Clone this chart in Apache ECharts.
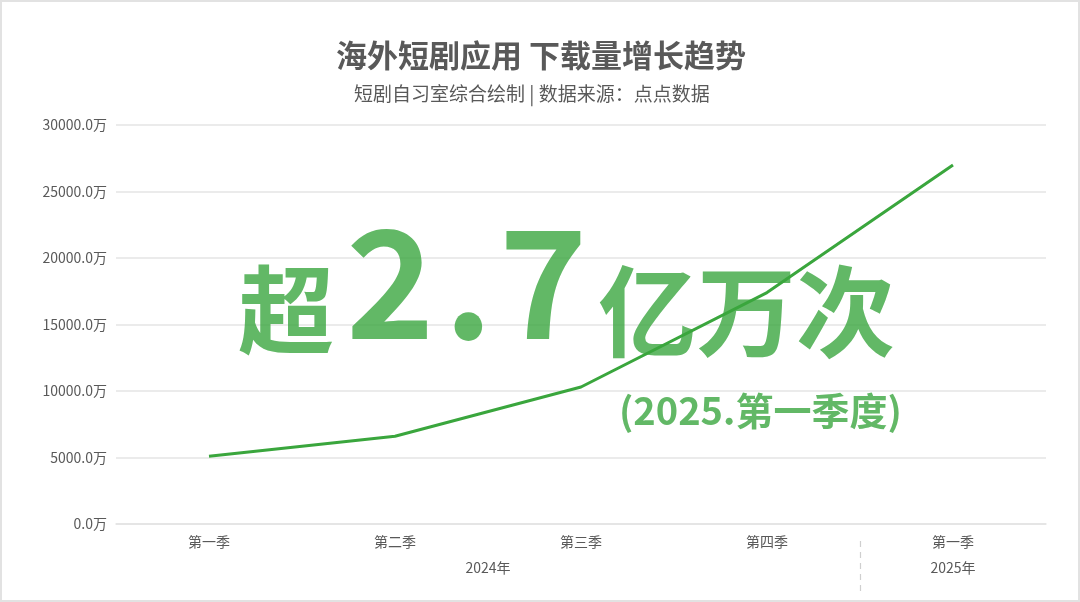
<!DOCTYPE html>
<html>
<head>
<meta charset="utf-8">
<script src="https://cdn.jsdelivr.net/npm/echarts@6/dist/echarts.min.js"></script>
<style>
  html, body { margin: 0; padding: 0; background: #fff; }
  #main { width: 1080px; height: 602px; box-sizing: border-box; border: 2px solid #e2e2e2; }
</style>
</head>
<body>
<div id="main"></div>
<script>
// 季度、所属年份、下载量（万）
var quarters = ['第一季', '第二季', '第三季', '第四季', '第一季'];
var quarterYear = ['2024年', '2024年', '2024年', '2024年', '2025年'];
var downloads = [5100, 6600, 10300, 17400, 27000];
var yTicks = [0, 5000, 10000, 15000, 20000, 25000, 30000];

var titleText = '海外短剧应用 下载量增长趋势';
var subText = '短剧自习室综合绘制 | 数据来源：点点数据';

var font = '"Noto Sans CJK SC", "Noto Sans", sans-serif';
var grey = '#595959';
var bigGreen = 'rgba(59,166,64,0.8)';

// 年份分组：算出每个年份的起止位置，用于第二层x轴标签和分隔线
var yearGroups = [];
quarterYear.forEach(function (y, i) {
  var last = yearGroups[yearGroups.length - 1];
  if (last && last.name === y) {
    last.end = i + 1;
  } else {
    yearGroups.push({ name: y, start: i, end: i + 1 });
  }
});
var yearLabelPos = yearGroups.map(function (g) { return (g.start + g.end) / 2; });
var yearSplitPos = yearGroups.slice(1).map(function (g) { return g.start; });

var chart = echarts.init(document.getElementById('main'));
var option = {
  backgroundColor: '#fff',
  title: [{
    text: titleText,
    left: 329,
    top: 33,
    textStyle: { fontFamily: font, fontSize: 31, fontWeight: 'bold', color: grey }
  }, {
    text: subText,
    left: 347,
    top: 77,
    textStyle: { fontFamily: font, fontSize: 19, fontWeight: 'normal', color: grey }
  }],
  grid: { left: 114, right: 32, top: 123, bottom: 76 },
  xAxis: [{
    type: 'category',
    data: quarters,
    boundaryGap: true,
    axisLine: { show: true, lineStyle: { color: '#e4e4e4', width: 1.5 } },
    axisTick: { show: false },
    axisLabel: { color: grey, fontFamily: font, fontSize: 14, margin: 11 }
  }, {
    type: 'value',
    min: 0,
    max: quarters.length,
    position: 'bottom',
    offset: 17,
    axisLine: { show: false },
    splitLine: { show: false },
    axisTick: {
      show: true,
      customValues: yearSplitPos,
      length: 50,
      lineStyle: { color: '#cfcfcf', type: [6, 5], width: 1.2 }
    },
    axisLabel: {
      customValues: yearLabelPos,
      color: grey,
      fontFamily: font,
      fontSize: 14,
      margin: 20,
      formatter: function (v) {
        var idx = yearLabelPos.indexOf(v);
        return idx >= 0 ? yearGroups[idx].name : '';
      }
    }
  }],
  yAxis: {
    type: 'value',
    min: yTicks[0],
    max: yTicks[yTicks.length - 1],
    interval: yTicks[1] - yTicks[0],
    axisLine: { show: false },
    axisTick: { show: false },
    splitLine: { lineStyle: { color: '#e4e4e4', width: 1.5 } },
    axisLabel: {
      color: grey,
      fontFamily: font,
      fontSize: 14,
      margin: 9,
      formatter: function (v) { return v.toFixed(1) + '万'; }
    }
  },
  series: [{
    type: 'line',
    data: downloads,
    xAxisIndex: 0,
    symbol: 'none',
    z: 5,
    lineStyle: { color: '#3aa63d', width: 3 }
  }],
  graphic: [
    { type: 'text', z: 3, left: 236, top: 260, style: { text: '超', fill: bigGreen, font: 'bold 96px ' + font } },
    { type: 'text', z: 3, left: 344, top: 205, style: { text: '2', fill: bigGreen, font: 'bold 150px ' + font } },
    { type: 'text', z: 3, left: 442, top: 205, style: { text: '.', fill: bigGreen, font: 'bold 150px ' + font } },
    { type: 'text', z: 3, left: 497, top: 205, style: { text: '7', fill: bigGreen, font: 'bold 150px ' + font } },
    { type: 'text', z: 3, left: 596, top: 260, style: { text: '亿万次', fill: bigGreen, font: 'bold 99px ' + font } },
    { type: 'text', z: 3, left: 617, top: 390, style: { text: '(2025.第一季度)', fill: bigGreen, font: 'bold 38px ' + font } }
  ]
};
chart.setOption(option);
</script>
</body>
</html>
